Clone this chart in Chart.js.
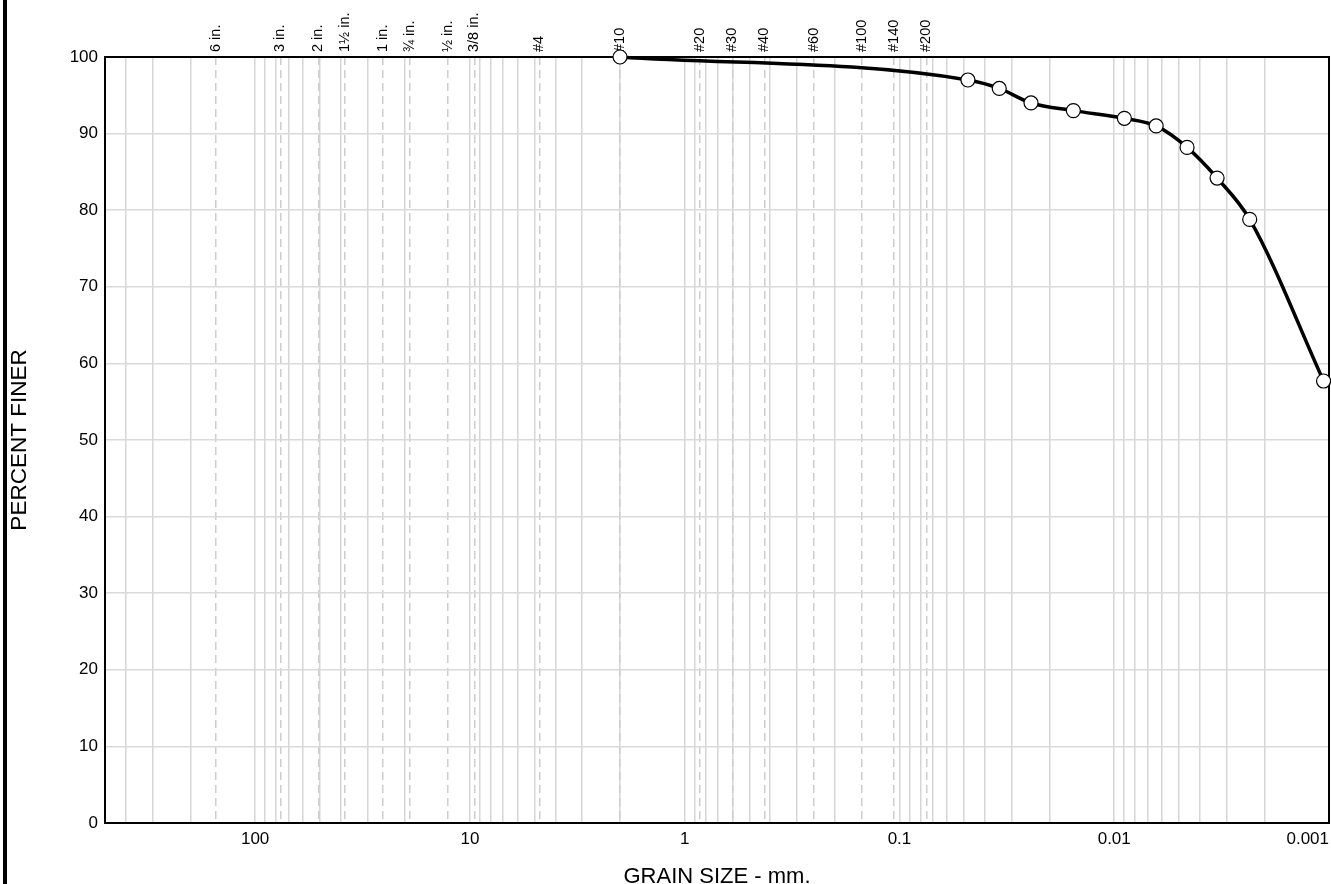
<!DOCTYPE html>
<html lang="en">
<head>
    <meta charset="UTF-8">
    <title>Grain Size Distribution</title>
    <script src="https://cdn.jsdelivr.net/npm/chart.js"></script>
    <style>
        body {
            margin: 0;
            padding: 0;
            background: #ffffff;
        }
        canvas {
            display: block;
        }
    </style>
</head>
<body>
    <canvas id="gradationChart" width="1331" height="884"></canvas>

    <script>
        // Test results (grain size in mm, percent finer)
        var grainSize = [2.0, 0.048, 0.0343, 0.0244, 0.0155, 0.00897, 0.00638, 0.00458, 0.00332, 0.00234, 0.00106];
        var percentFiner = [100, 97.0, 95.9, 94.0, 93.0, 92.0, 91.0, 88.2, 84.2, 78.8, 57.7];

        // Sieve openings shown along the top
        var sieveLabels = ['6 in.', '3 in.', '2 in.', '1\u00BD in.', '1 in.', '\u00BE in.', '\u00BD in.', '3/8 in.',
                           '#4', '#10', '#20', '#30', '#40', '#60', '#100', '#140', '#200'];
        var sieveSizes = [152.4, 76.2, 50.8, 38.1, 25.4, 19.05, 12.7, 9.525,
                          4.75, 2.0, 0.85, 0.6, 0.425, 0.25, 0.15, 0.106, 0.075];

        // Bottom axis labels
        var sizeTicks = [100, 10, 1, 0.1, 0.01, 0.001];
        var sizeTickLabels = ['100', '10', '1', '0.1', '0.01', '0.001'];

        var sizeMin = 0.001;
        var sizeMax = 500;
        var fontFamily = "'Liberation Sans', Arial, sans-serif";
        var sieveFontSize = 14.5;

        // log grid lines: 1..9 per decade
        var gridValues = [];
        for (var p = -3; p <= 2; p++) {
            for (var m = 1; m <= 9; m++) {
                var v = parseFloat((m * Math.pow(10, p)).toPrecision(6));
                if (v >= sizeMin && v <= sizeMax) gridValues.push(v);
            }
        }

        function sameValue(a, b) {
            return Math.abs(a - b) / b < 1e-6;
        }

        // frame round the plot area and the rule at the left edge
        var framePlugin = {
            id: 'frame',
            beforeDatasetsDraw: function (chart) {
                var a = chart.chartArea;
                var c = chart.ctx;
                c.save();
                c.strokeStyle = '#000';
                c.lineWidth = 2;
                c.strokeRect(a.left, a.top, a.right - a.left, a.bottom - a.top);
                c.restore();
            },
            afterDraw: function (chart) {
                var c = chart.ctx;
                c.save();
                c.fillStyle = '#000';
                c.fillRect(3, 0, 4, chart.height);
                c.restore();
            }
        };

        var ctx = document.getElementById('gradationChart').getContext('2d');

        new Chart(ctx, {
            type: 'line',
            data: {
                datasets: [{
                    data: grainSize.map(function (x, i) { return { x: x, y: percentFiner[i] }; }),
                    borderColor: '#000',
                    borderWidth: 3.5,
                    cubicInterpolationMode: 'monotone',
                    pointRadius: 7,
                    pointBackgroundColor: '#fff',
                    pointBorderColor: '#000',
                    pointBorderWidth: 1.2,
                    clip: false
                }]
            },
            options: {
                responsive: false,
                animation: false,
                layout: { autoPadding: false, padding: { left: 0, right: 2, top: 0, bottom: 0 } },
                plugins: {
                    legend: { display: false },
                    tooltip: { enabled: false }
                },
                scales: {
                    x: {
                        type: 'logarithmic',
                        position: 'bottom',
                        reverse: true,
                        min: sizeMin,
                        max: sizeMax,
                        afterBuildTicks: function (s) {
                            s.ticks = gridValues.map(function (v) { return { value: v }; });
                        },
                        afterFit: function (s) {
                            s.height = 61;
                            s.paddingLeft = 0;
                            s.paddingRight = 0;
                        },
                        ticks: {
                            autoSkip: false,
                            maxRotation: 0,
                            padding: 6,
                            color: '#000',
                            font: { family: fontFamily, size: 17 },
                            callback: function (value) {
                                for (var i = 0; i < sizeTicks.length; i++) {
                                    if (sameValue(value, sizeTicks[i])) {
                                        // last label sits flush with the right edge
                                        return i === sizeTicks.length - 1 ? sizeTickLabels[i] + '         ' : sizeTickLabels[i];
                                    }
                                }
                                return '';
                            }
                        },
                        grid: { color: '#d6d6d6', lineWidth: 1.5, drawTicks: false },
                        border: { display: false },
                        title: {
                            display: true,
                            text: 'GRAIN SIZE - mm.',
                            color: '#000',
                            font: { family: fontFamily, size: 22, lineHeight: 1 },
                            padding: { top: 0, bottom: -4 }
                        }
                    },
                    x2: {
                        type: 'logarithmic',
                        position: 'top',
                        reverse: true,
                        min: sizeMin,
                        max: sizeMax,
                        afterBuildTicks: function (s) {
                            s.ticks = sieveSizes.map(function (v) { return { value: v }; });
                        },
                        afterFit: function (s) {
                            s.height = 57;
                            s.paddingLeft = 0;
                            s.paddingRight = 0;
                        },
                        ticks: {
                            autoSkip: false,
                            minRotation: 90,
                            maxRotation: 90,
                            padding: 5,
                            labelOffset: sieveFontSize * 1.2,
                            color: '#000',
                            font: { family: fontFamily, size: sieveFontSize },
                            callback: function (value) {
                                for (var i = 0; i < sieveSizes.length; i++) {
                                    if (sameValue(value, sieveSizes[i])) return sieveLabels[i];
                                }
                                return '';
                            }
                        },
                        grid: { color: '#cdcdcd', lineWidth: 1.5, drawTicks: false },
                        border: { display: false, dash: [8, 5] }
                    },
                    y: {
                        min: 0,
                        max: 100,
                        afterFit: function (s) {
                            s.width = 105;
                            s.paddingTop = 0;
                            s.paddingBottom = 0;
                        },
                        ticks: {
                            stepSize: 10,
                            padding: 7,
                            color: '#000',
                            font: { family: fontFamily, size: 17 }
                        },
                        grid: { color: '#dadada', lineWidth: 1.5, drawTicks: false },
                        border: { display: false },
                        title: {
                            display: true,
                            text: 'PERCENT FINER',
                            color: '#000',
                            font: { family: fontFamily, size: 22.5, lineHeight: 1 },
                            padding: { top: 9, bottom: 0 }
                        }
                    }
                }
            },
            plugins: [framePlugin]
        });
    </script>
</body>
</html>
